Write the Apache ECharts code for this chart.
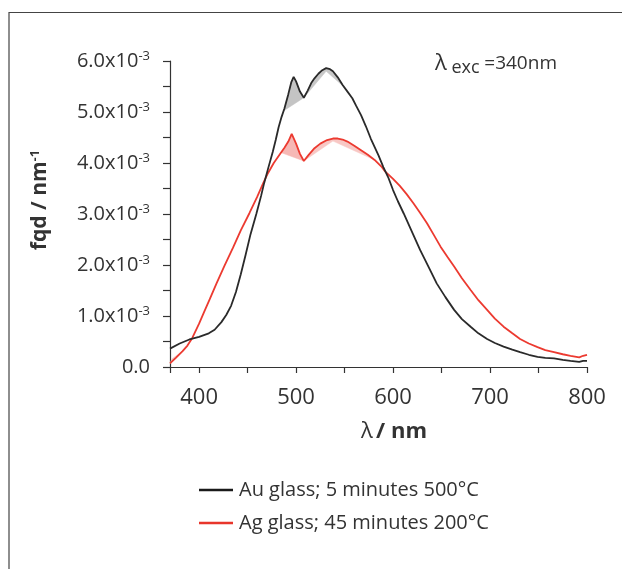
<!DOCTYPE html>
<html>
<head>
<meta charset="utf-8">
<script src="https://cdn.jsdelivr.net/npm/echarts@6/dist/echarts.min.js"></script>
<style>
  html, body { margin: 0; padding: 0; background: #fff; }
  #chart { width: 622px; height: 569px; }
</style>
</head>
<body>
<div id="chart"></div>
<script>
// wavelength (nm) and fqd (x10^-3 nm^-1)
const auNm = [370, 380, 390, 400, 410, 416, 423, 428, 433, 438, 443, 448, 453, 459, 464, 467, 471, 476, 479, 482, 485, 488, 492, 495, 497.5, 500, 504, 508, 512, 516, 519, 523, 527, 531, 535, 538, 543, 548, 553, 558, 562, 567, 572, 577, 585, 590, 595, 600, 605, 611, 620, 628, 637, 645, 654, 663, 671, 680, 688, 697, 705, 714, 723, 731, 740, 749, 757, 766, 775, 783, 792, 796, 800]
const auFqd = [0.36, 0.46, 0.54, 0.59, 0.66, 0.73, 0.88, 1.02, 1.20, 1.47, 1.82, 2.20, 2.60, 3.00, 3.36, 3.60, 3.88, 4.22, 4.45, 4.70, 4.90, 5.07, 5.35, 5.58, 5.69, 5.60, 5.40, 5.28, 5.42, 5.58, 5.66, 5.75, 5.82, 5.86, 5.84, 5.80, 5.68, 5.53, 5.40, 5.27, 5.12, 4.94, 4.72, 4.48, 4.15, 3.92, 3.72, 3.47, 3.25, 3.01, 2.63, 2.29, 1.95, 1.64, 1.37, 1.12, 0.94, 0.79, 0.66, 0.55, 0.47, 0.40, 0.34, 0.29, 0.24, 0.20, 0.18, 0.17, 0.14, 0.12, 0.10, 0.12, 0.12]

const agNm = [370, 376, 383, 388, 393, 400, 405, 411, 418, 426, 435, 443, 452, 460, 466, 471, 477, 484, 488, 492, 495.5, 500, 504, 508, 513, 519, 525, 532, 538, 543, 548, 553, 560, 567, 574, 581, 588, 592, 600, 607, 614, 621, 628, 635, 642, 649, 656, 663, 671, 680, 688, 697, 705, 714, 723, 731, 740, 749, 757, 766, 775, 783, 792, 796, 800]
const agFqd = [0.07, 0.18, 0.31, 0.42, 0.57, 0.85, 1.07, 1.33, 1.64, 1.98, 2.34, 2.68, 3.02, 3.34, 3.60, 3.80, 4.00, 4.19, 4.30, 4.42, 4.57, 4.38, 4.18, 4.04, 4.16, 4.29, 4.38, 4.45, 4.48, 4.48, 4.46, 4.42, 4.34, 4.25, 4.16, 4.06, 3.93, 3.83, 3.69, 3.55, 3.39, 3.21, 3.02, 2.82, 2.59, 2.36, 2.16, 1.97, 1.74, 1.51, 1.31, 1.12, 0.95, 0.79, 0.66, 0.55, 0.46, 0.39, 0.33, 0.29, 0.25, 0.22, 0.19, 0.22, 0.24]

// shaded artefacts near the peaks: [nm, fqd]
const auShadeA = [[487, 5.02], [488, 5.07], [492, 5.35], [495, 5.58], [497.5, 5.69], [500, 5.60], [504, 5.40], [508, 5.28]]
const auShadeB = [[508, 5.28], [512, 5.42], [516, 5.58], [519, 5.66], [523, 5.75], [527, 5.82], [531, 5.86], [535, 5.84], [538, 5.80], [543, 5.68], [549, 5.50], [531, 5.80]]
const agShadeA = [[485, 4.20], [488, 4.30], [492, 4.42], [495.5, 4.57], [500, 4.38], [504, 4.18], [508, 4.04]]
const agShadeB = [[508, 4.04], [513, 4.16], [519, 4.29], [525, 4.38], [532, 4.45], [538, 4.48], [543, 4.48], [548, 4.46], [553, 4.42], [560, 4.34], [567, 4.25], [574, 4.16], [581, 4.06], [538, 4.43]]
const agShadeC = [[370, 0.07], [376, 0.18], [383, 0.31], [372, 0.16]]

const xTicks = [370, 400, 450, 500, 550, 600, 650, 700, 750, 800]
const xLabels = [400, 500, 600, 700, 800]

const seriesNames = ['Au glass; 5 minutes 500°C', 'Ag glass; 45 minutes 200°C']

const FONT = 'Open Sans'
const TEXT = '#333'

const zip = (xs, ys) => xs.map((x, i) => [x, ys[i]])

const shade = (pts, color) => ({
  type: 'custom',
  silent: true,
  z: 1,
  data: pts,
  renderItem: (params, api) => {
    if (params.dataIndex !== 0) return null
    return {
      type: 'polygon',
      shape: { points: pts.map(p => api.coord(p)) },
      style: { fill: color, stroke: color, lineWidth: 0.5 }
    }
  }
})

const chart = echarts.init(document.getElementById('chart'))

chart.setOption({
  animation: false,
  backgroundColor: '#fff',
  textStyle: { fontFamily: FONT, color: TEXT },
  grid: { left: 170, right: 35, top: 61, bottom: 202 },
  legend: {
    data: seriesNames,
    orient: 'vertical',
    left: 194,
    top: 475,
    icon: 'rect',
    itemWidth: 34,
    itemHeight: 2.5,
    itemGap: 13,
    textStyle: { fontFamily: FONT, fontSize: 20, color: TEXT, lineHeight: 20, padding: [0, 0, 0, 1] }
  },
  xAxis: {
    type: 'value',
    min: 370,
    max: 800,
    axisLine: { lineStyle: { color: '#333', width: 1.2 } },
    axisTick: { customValues: xTicks, length: 6, lineStyle: { color: '#333', width: 1.2 } },
    axisLabel: { customValues: xLabels, margin: 20, fontSize: 22, color: TEXT, fontFamily: FONT },
    splitLine: { show: false }
  },
  yAxis: {
    type: 'value',
    min: 0,
    max: 6,
    interval: 1,
    axisLine: { show: true, lineStyle: { color: '#333', width: 1.2 } },
    axisTick: { show: true, length: 7, lineStyle: { color: '#333', width: 1.2 } },
    minorTick: { show: true, splitNumber: 2, length: 7, lineStyle: { color: '#333', width: 1.2 } },
    splitLine: { show: false },
    axisLabel: {
      margin: 20,
      fontSize: 20,
      color: TEXT,
      fontFamily: FONT,
      formatter: v => v === 0 ? '0.0' : v.toFixed(1) + 'x10{sup|-3}',
      rich: {
        sup: { fontSize: 13, color: TEXT, fontFamily: FONT, verticalAlign: 'top', padding: [0, 0, 9, 0] }
      }
    }
  },
  graphic: [
    {
      type: 'rect',
      silent: true,
      shape: { x: 9, y: 12.5, width: 800, height: 800 },
      style: { fill: 'none', stroke: '#444', lineWidth: 1.2 }
    },
    {
      type: 'text',
      x: 40,
      y: 200,
      rotation: Math.PI / 2,
      style: {
        text: '{b|fqd / nm}{s|-1}',
        align: 'center',
        verticalAlign: 'middle',
        rich: {
          b: { fontSize: 21, fontWeight: 'bold', fontFamily: FONT, fill: TEXT },
          s: { fontSize: 13, fontWeight: 'bold', fontFamily: FONT, fill: TEXT, padding: [0, 0, 10, 0] }
        }
      }
    },
    {
      type: 'text',
      x: 394,
      y: 432,
      style: {
        text: '{l|λ} {b|/ nm}',
        align: 'center',
        verticalAlign: 'middle',
        rich: {
          l: { fontSize: 22, fontFamily: FONT, fill: TEXT },
          b: { fontSize: 22, fontWeight: 'bold', fontFamily: FONT, fill: TEXT }
        }
      }
    },
    {
      type: 'text',
      x: 435,
      y: 64,
      style: {
        text: '{l|λ}{e| exc }{v|=340nm}',
        verticalAlign: 'middle',
        rich: {
          l: { fontSize: 22, fontFamily: FONT, fill: TEXT },
          e: { fontSize: 18, fontFamily: FONT, fill: TEXT, padding: [8, 0, 0, 0] },
          v: { fontSize: 19, fontFamily: FONT, fill: TEXT }
        }
      }
    }
  ],
  series: [
    shade(auShadeA, '#c4c4c4'),
    shade(auShadeB, '#c8c8c8'),
    shade(agShadeA, '#f6b8b5'),
    shade(agShadeB, '#f8c8c5'),
    shade(agShadeC, '#f8c8c5'),
    {
      name: seriesNames[0],
      type: 'line',
      data: zip(auNm, auFqd),
      symbol: 'none',
      z: 3,
      lineStyle: { color: '#2a2a2a', width: 1.8 },
      itemStyle: { color: '#1a1a1a' }
    },
    {
      name: seriesNames[1],
      type: 'line',
      data: zip(agNm, agFqd),
      symbol: 'none',
      z: 2,
      lineStyle: { color: '#ec3a30', width: 1.8 },
      itemStyle: { color: '#e8352b' }
    }
  ]
})
</script>
</body>
</html>
